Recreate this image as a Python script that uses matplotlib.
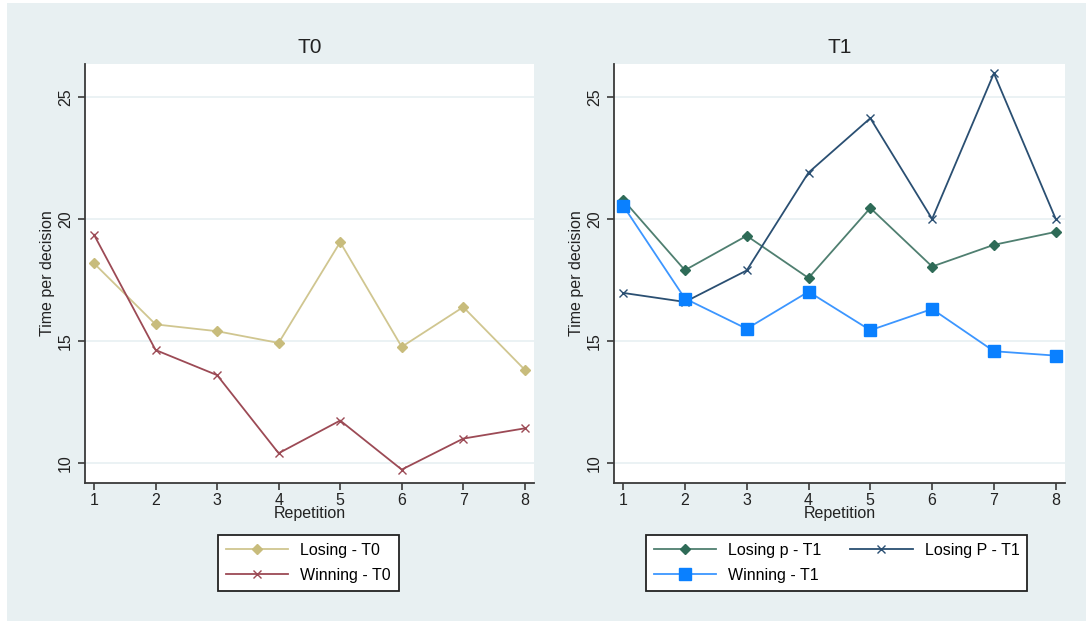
import matplotlib.pyplot as plt
from matplotlib.patches import Rectangle
import numpy as np

plt.rcParams['font.family'] = ['Liberation Sans', 'DejaVu Sans']

# data
reps = [1, 2, 3, 4, 5, 6, 7, 8]
losing_t0 = [18.18, 15.68, 15.40, 14.92, 19.05, 14.76, 16.39, 13.82]
winning_t0 = [19.35, 14.63, 13.60, 10.40, 11.74, 9.73, 11.00, 11.42]
losing_p_t1 = [20.79, 17.90, 19.31, 17.58, 20.45, 18.05, 18.94, 19.47]
losing_P_t1 = [16.97, 16.60, 17.89, 21.90, 24.13, 20.00, 25.97, 20.00]
winning_t1 = [20.55, 16.74, 15.50, 17.02, 15.44, 16.31, 14.58, 14.40]
yticks = [10, 15, 20, 25]

bg = '#e8f0f2'
W, H = 1086, 621
fig = plt.figure(figsize=(W / 100, H / 100), dpi=100, facecolor='white')
fig.patches.append(Rectangle((7 / W, 0), 1 - 7 / W, 1 - 3 / H, transform=fig.transFigure,
                             facecolor=bg, edgecolor='none', zorder=-10))

bottom = 1 - 483 / H
top = 1 - 64 / H
ax1 = fig.add_axes([85 / W, bottom, (534 - 85) / W, top - bottom])
ax2 = fig.add_axes([614 / W, bottom, (1065 - 614) / W, top - bottom])


def style(ax, title):
    ax.set_facecolor('white')
    ax.set_xlim(0.853, 8.15)
    ax.set_ylim(9.18, 26.35)
    ax.set_yticks(yticks)
    ax.set_xticks(reps)
    ax.grid(axis='y', color='#e8f0f2', lw=1.2)
    ax.set_axisbelow(True)
    for s in ['top', 'right']:
        ax.spines[s].set_visible(False)
    for s in ['left', 'bottom']:
        ax.spines[s].set_color('#3a3a3a')
        ax.spines[s].set_linewidth(1.3)
    ax.tick_params(axis='both', direction='out', length=5, width=1.2,
                   color='#3a3a3a', labelsize=11.5, labelcolor='#222222')
    for lab in ax.get_yticklabels():
        lab.set_rotation(90)
        lab.set_va('center')
    ax.tick_params(axis='x', pad=2)
    ax.set_xlabel('Repetition', fontsize=11.5, labelpad=-1, color='#222222')
    ax.set_ylabel('Time per decision', fontsize=11.5, labelpad=2, color='#222222')
    ax.set_title(title, fontsize=15, pad=8, color='#222222')


style(ax1, 'T0')
style(ax2, 'T1')

ax1.plot(reps, losing_t0, color='#d0c690', lw=1.3, marker='D', ms=5,
         mfc='#c8bc7c', mec='#c8bc7c', label='Losing - T0')
ax1.plot(reps, winning_t0, color='#9c4a55', lw=1.3, marker='x', ms=6,
         mew=1.0, label='Winning - T0')

ax2.plot(reps, losing_p_t1, color='#4f7f70', lw=1.3, marker='D', ms=5,
         mfc='#2e6b57', mec='#2e6b57', label='Losing p - T1')
ax2.plot(reps, losing_P_t1, color='#2a4f72', lw=1.3, marker='x', ms=6,
         mew=1.0, label='Losing P - T1')
ax2.plot(reps, winning_t1, color='#3c96ff', lw=1.3, marker='s', ms=8.5,
         mfc='#0a80ff', mec='#0a80ff', label='Winning - T1')

legkw = dict(frameon=True, fancybox=False, framealpha=1, facecolor='white',
             edgecolor='#222222', fontsize=11.5, handlelength=3.9,
             handletextpad=0.75, borderpad=0.5, labelspacing=0.6,
             borderaxespad=0)

h1, l1 = ax1.get_legend_handles_labels()
leg1 = fig.legend(h1, l1, loc='upper left', bbox_to_anchor=(218 / W, 1 - 535 / H), **legkw)
leg1.get_frame().set_linewidth(1.3)

h2, l2 = ax2.get_legend_handles_labels()
order = [0, 2, 1]
leg2 = fig.legend([h2[i] for i in order], [l2[i] for i in order], ncol=2,
                  loc='upper left', bbox_to_anchor=(646 / W, 1 - 535 / H),
                  columnspacing=1.8, **legkw)
leg2.get_frame().set_linewidth(1.3)

fig.savefig('out.png', dpi=100, facecolor=fig.get_facecolor())
